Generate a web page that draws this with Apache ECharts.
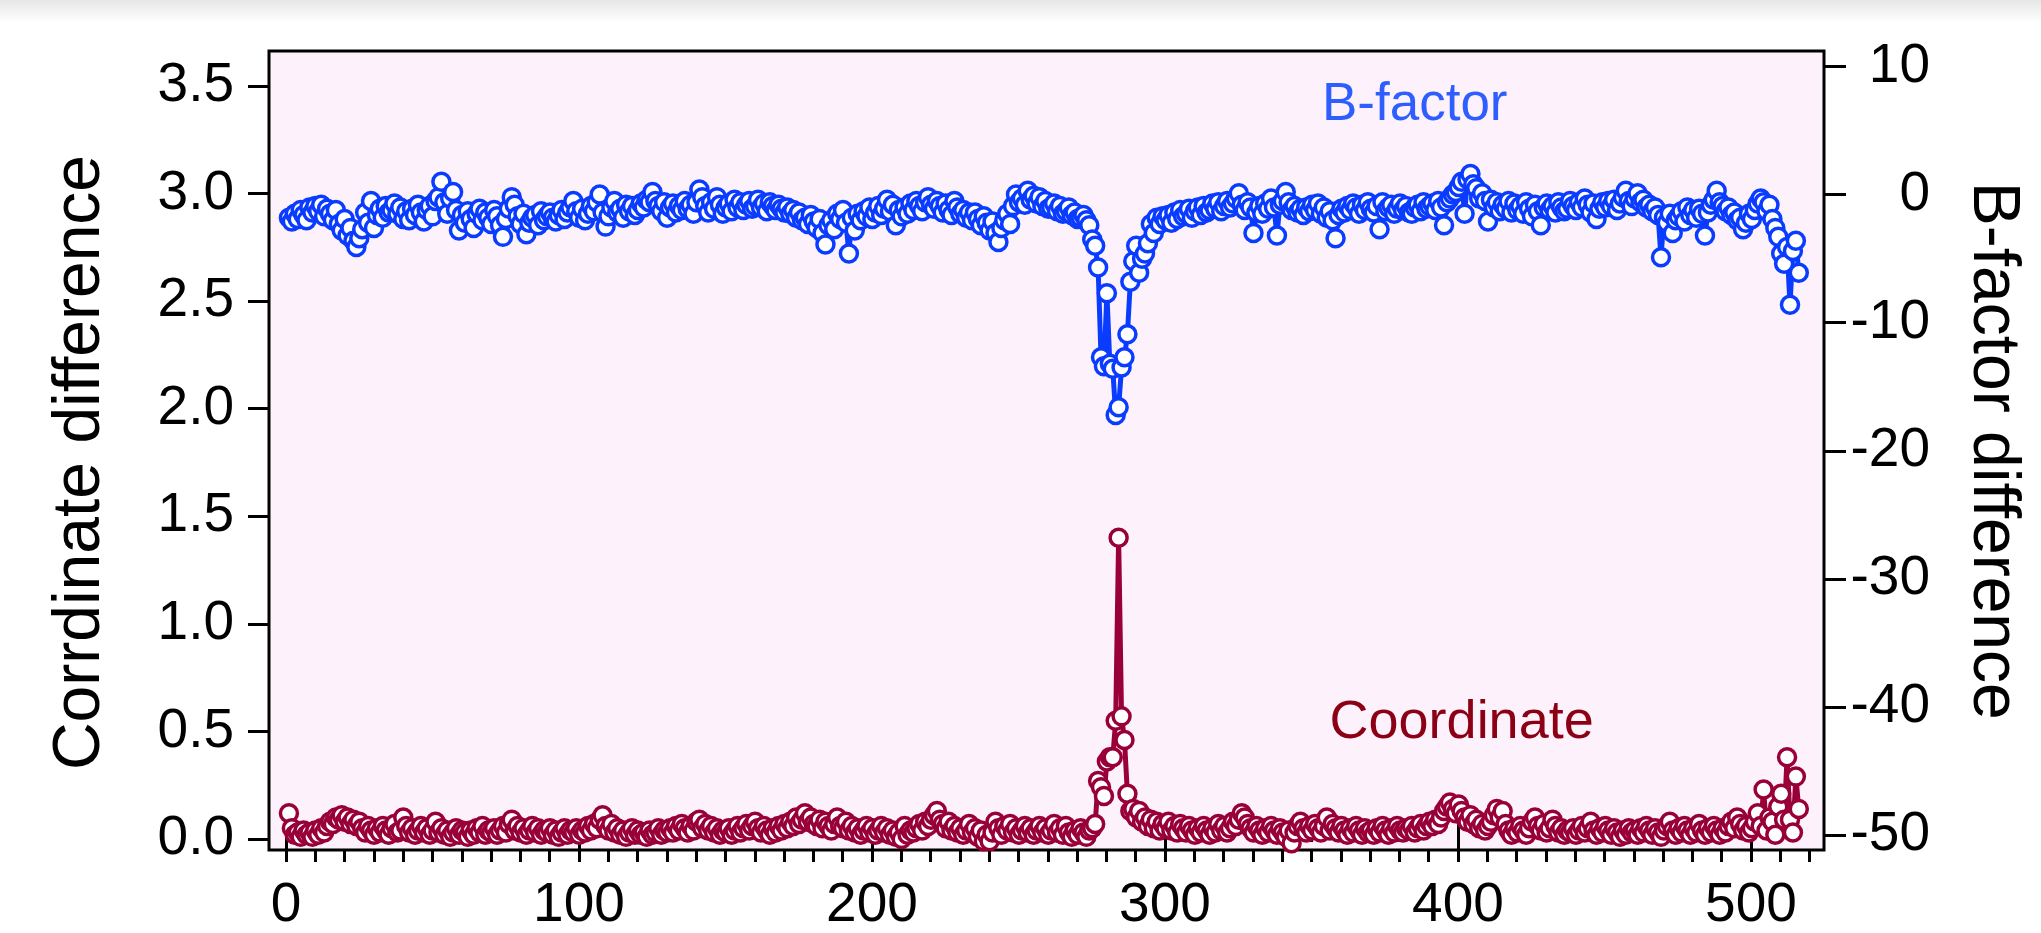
<!DOCTYPE html>
<html>
<head>
<meta charset="utf-8">
<title>Coordinate and B-factor difference per residue</title>
<script src="https://cdn.jsdelivr.net/npm/echarts@6/dist/echarts.min.js"></script>
<style>
  html, body { margin: 0; padding: 0; background: #ffffff; }
  #chart { width: 2041px; height: 933px; }
</style>
</head>
<body>
<div id="chart"></div>
<script>
// Residue numbering of the first value in each series
const residueStart = 1;

// B-factor difference per residue (right axis)
const bFactorDiff = [
  -1.8, -2.1, -1.5, -1.9, -1.2, -1.6, -2.0, -1.0, -1.4, -0.9,
  -1.3, -0.8, -1.7, -1.1, -1.5, -2.0, -1.2, -2.3, -2.8, -1.9,
  -3.2, -2.6, -3.6, -4.1, -3.4, -2.7, -1.4, -2.2, -0.5, -2.6,
  -1.6, -1.1, -1.8, -0.9, -1.4, -1.2, -0.7, -1.5, -1.0, -1.9,
  -1.3, -2.0, -1.1, -1.6, -0.8, -1.4, -2.1, -1.2, -0.9, -1.7,
  -0.5, -0.2, 1.0, -0.6, -1.5, -0.3, 0.2, -1.2, -2.8, -1.6,
  -2.2, -1.3, -1.9, -2.6, -1.5, -1.1, -2.0, -1.4, -1.8, -2.3,
  -1.2, -1.7, -2.4, -3.3, -1.9, -1.1, -0.2, -0.8, -1.7, -2.3,
  -1.5, -3.1, -2.2, -1.8, -1.6, -2.4, -1.3, -2.0, -1.7, -1.4,
  -1.8, -2.1, -1.6, -1.2, -1.9, -1.4, -1.0, -0.5, -1.3, -1.8,
  -1.1, -2.0, -1.5, -0.9, -1.3, -0.6, 0.0, -1.4, -2.5, -1.7,
  -1.0, -0.5, -1.4, -1.1, -1.8, -0.8, -1.3, -0.9, -1.6, -1.2,
  -0.7, -1.0, -0.4, -0.6, 0.2, -0.5, -0.9, -1.3, -0.6, -1.8,
  -1.0, -0.7, -1.4, -0.9, -1.2, -0.5, -1.1, -0.8, -1.5, -0.6,
  0.4, -0.2, -0.9, -1.4, -0.6, -1.1, -0.2, -0.8, -1.5, -1.0,
  -0.7, -1.3, -0.4, -1.0, -0.6, -1.2, -0.8, -0.5, -1.1, -0.9,
  -0.4, -1.0, -0.7, -1.3, -0.6, -0.9, -1.2, -0.8, -1.1, -1.4,
  -1.0, -1.5, -1.2, -1.8, -1.4, -2.0, -1.8, -2.3, -1.6, -2.1,
  -2.6, -1.9, -3.0, -3.9, -2.4, -2.0, -2.7, -1.5, -1.9, -1.2,
  -2.2, -4.6, -1.8, -2.8, -1.5, -2.0, -1.3, -1.7, -1.0, -1.9,
  -1.4, -0.9, -1.6, -1.1, -0.4, -1.3, -0.8, -2.4, -1.2, -1.7,
  -1.0, -1.5, -0.7, -1.2, -0.5, -0.9, -1.3, -0.6, -0.2, -0.8,
  -1.1, -0.5, -0.9, -1.4, -0.7, -1.2, -1.6, -0.5, -1.0, -1.5,
  -1.2, -1.8, -1.4, -2.0, -1.4, -1.9, -2.4, -1.7, -2.2, -2.8,
  -2.1, -3.0, -3.7, -2.6, -2.0, -1.5, -2.3, -0.9, 0.0, -0.6,
  -0.3, -0.8, 0.3, -0.4, -0.1, -0.7, -0.2, -0.9, -0.5, -1.1,
  -1.0, -0.7, -1.3, -0.9, -1.5, -1.3, -1.0, -1.6, -1.4, -1.9,
  -1.8, -1.6, -2.0, -2.4, -3.5, -4.0, -5.7, -12.7, -13.4, -7.7,
  -13.2, -13.6, -17.2, -16.6, -13.5, -12.7, -10.9, -6.8, -5.2, -4.0,
  -6.1, -5.0, -4.6, -3.8, -2.3, -3.0, -1.8, -2.3, -1.7, -2.0,
  -1.6, -2.2, -1.4, -1.9, -1.2, -1.7, -1.5, -1.1, -1.8, -1.3,
  -1.0, -1.6, -0.9, -1.4, -1.2, -0.7, -1.1, -0.6, -1.3, -0.9,
  -0.5, -1.0, -0.7, -0.3, 0.1, -0.8, -1.2, -0.6, -1.0, -3.0,
  -1.4, -0.9, -1.5, -0.7, -1.1, -0.3, -1.0, -3.2, -0.8, -0.5,
  0.2, -0.6, -1.2, -0.9, -1.4, -1.1, -1.6, -1.0, -1.3, -0.8,
  -1.2, -0.7, -1.5, -1.0, -1.8, -1.3, -2.0, -3.4, -1.6, -1.1,
  -1.4, -0.9, -1.2, -0.7, -1.0, -1.5, -0.8, -1.2, -0.6, -1.1,
  -1.4, -0.9, -2.7, -0.6, -1.3, -1.0, -0.8, -1.5, -1.1, -0.7,
  -1.2, -0.9, -1.4, -1.5, -1.0, -0.8, -1.3, -0.6, -1.1, -0.9,
  -0.7, -1.2, -0.5, -1.0, -2.4, -0.6, -0.3, 0.0, 0.2, 0.6,
  1.0, -1.5, 1.2, 1.6, 0.8, 0.5, -0.3, 0.1, -0.5, -2.1,
  -0.4, -1.0, -0.6, -1.3, -0.8, -1.1, -0.5, -1.4, -0.7, -1.2,
  -0.9, -1.5, -0.6, -1.1, -1.7, -0.8, -1.3, -2.4, -1.0, -0.7,
  -1.2, -0.9, -1.4, -0.6, -1.0, -1.3, -1.1, -0.5, -0.9, -1.2,
  -0.6, -1.0, -0.3, -0.8, -1.4, -0.7, -1.9, -1.1, -0.6, -1.0,
  -0.5, -0.9, -0.4, -1.2, -0.7, -0.2, 0.3, -0.5, -0.9, -0.3,
  0.1, -0.6, -0.4, -1.0, -0.8, -1.3, -1.0, -1.6, -4.9, -1.8,
  -2.2, -1.5, -3.0, -2.0, -1.7, -1.3, -2.1, -1.0, -1.6, -1.2,
  -1.8, -1.1, -1.5, -3.2, -1.4, -0.8, -0.4, 0.3, -0.6, -0.9,
  -1.3, -1.0, -1.6, -1.4, -2.0, -1.8, -2.7, -2.2, -1.5, -1.9,
  -1.2, -0.7, -0.3, -0.6, -1.3, -0.8, -1.9, -2.6, -3.3, -4.6,
  -5.4, -4.1, -8.6, -4.4, -3.6, -6.1
];

// Coordinate difference per residue (left axis)
const coordDiff = [
  0.12, 0.05, 0.02, 0.03, 0.01, 0.04, 0.02, 0.03, 0.01, 0.04,
  0.02, 0.05, 0.03, 0.06, 0.08, 0.07, 0.10, 0.09, 0.11, 0.08,
  0.10, 0.07, 0.09, 0.06, 0.08, 0.05, 0.03, 0.06, 0.04, 0.02,
  0.05, 0.03, 0.06, 0.04, 0.02, 0.05, 0.07, 0.03, 0.04, 0.10,
  0.06, 0.03, 0.05, 0.02, 0.04, 0.06, 0.03, 0.05, 0.02, 0.04,
  0.08, 0.03, 0.05, 0.02, 0.04, 0.01, 0.03, 0.05, 0.02, 0.04,
  0.03, 0.01, 0.04, 0.02, 0.05, 0.03, 0.06, 0.02, 0.04, 0.03,
  0.05, 0.02, 0.04, 0.06, 0.03, 0.07, 0.09, 0.04, 0.06, 0.03,
  0.05, 0.02, 0.04, 0.06, 0.03, 0.05, 0.02, 0.04, 0.03, 0.05,
  0.02, 0.04, 0.01, 0.03, 0.05, 0.02, 0.04, 0.03, 0.05, 0.02,
  0.04, 0.03, 0.06, 0.04, 0.07, 0.05, 0.09, 0.11, 0.06, 0.04,
  0.07, 0.03, 0.05, 0.02, 0.04, 0.01, 0.03, 0.05, 0.02, 0.04,
  0.02, 0.03, 0.01, 0.04, 0.02, 0.03, 0.05, 0.02, 0.04, 0.03,
  0.05, 0.03, 0.06, 0.04, 0.07, 0.05, 0.03, 0.06, 0.04, 0.08,
  0.09, 0.05, 0.07, 0.04, 0.06, 0.03, 0.05, 0.02, 0.04, 0.03,
  0.05, 0.02, 0.04, 0.06, 0.03, 0.05, 0.07, 0.04, 0.06, 0.08,
  0.05, 0.03, 0.06, 0.04, 0.02, 0.05, 0.03, 0.06, 0.04, 0.07,
  0.05, 0.08, 0.06, 0.10, 0.07, 0.09, 0.12, 0.08, 0.10, 0.07,
  0.06, 0.09, 0.05, 0.08, 0.06, 0.04, 0.07, 0.10, 0.06, 0.05,
  0.08, 0.04, 0.06, 0.03, 0.05, 0.02, 0.04, 0.06, 0.03, 0.05,
  0.02, 0.04, 0.06, 0.03, 0.05, 0.02, 0.04, 0.01, 0.03, 0.00,
  0.06, 0.02, 0.04, 0.03, 0.05, 0.07, 0.04, 0.08, 0.06, 0.09,
  0.11, 0.13, 0.09, 0.07, 0.05, 0.08, 0.04, 0.06, 0.03, 0.05,
  0.02, 0.04, 0.07, 0.03, 0.05, 0.01, 0.04, -0.01, 0.02, -0.01,
  0.03, 0.08, 0.05, 0.02, 0.06, 0.04, 0.07, 0.03, 0.05, 0.02,
  0.04, 0.06, 0.03, 0.05, 0.02, 0.04, 0.06, 0.03, 0.05, 0.02,
  0.04, 0.07, 0.03, 0.05, 0.02, 0.06, 0.03, 0.01, 0.04, 0.02,
  0.05, 0.03, 0.01, 0.04, 0.05, 0.07, 0.27, 0.24, 0.20, 0.36,
  0.38, 0.38, 0.55, 1.40, 0.57, 0.46, 0.21, 0.13, 0.14, 0.10,
  0.13, 0.08, 0.10, 0.06, 0.09, 0.05, 0.08, 0.04, 0.07, 0.05,
  0.08, 0.04, 0.06, 0.03, 0.07, 0.05, 0.03, 0.06, 0.04, 0.02,
  0.05, 0.03, 0.06, 0.04, 0.02, 0.05, 0.03, 0.07, 0.04, 0.06,
  0.03, 0.05, 0.08, 0.06, 0.09, 0.12, 0.10, 0.07, 0.05, 0.03,
  0.06, 0.04, 0.02, 0.05, 0.03, 0.06, 0.04, 0.02, 0.05, 0.03,
  0.01, 0.04, -0.02, 0.03, 0.06, 0.08, 0.05, 0.03, 0.06, 0.04,
  0.07, 0.05, 0.03, 0.06, 0.10, 0.04, 0.07, 0.05, 0.03, 0.06,
  0.04, 0.02, 0.05, 0.03, 0.06, 0.04, 0.02, 0.05, 0.03, 0.04,
  0.02, 0.05, 0.03, 0.06, 0.04, 0.02, 0.05, 0.03, 0.06, 0.04,
  0.03, 0.05, 0.04, 0.06, 0.03, 0.05, 0.07, 0.04, 0.06, 0.08,
  0.06, 0.09, 0.07, 0.10, 0.13, 0.15, 0.17, 0.14, 0.12, 0.16,
  0.13, 0.10, 0.08, 0.11, 0.07, 0.09, 0.05, 0.07, 0.04, 0.06,
  0.08, 0.11, 0.14, 0.10, 0.13, 0.07, 0.04, 0.02, 0.05, 0.03,
  0.06, 0.04, 0.02, 0.05, 0.08, 0.10, 0.06, 0.04, 0.07, 0.03,
  0.05, 0.09, 0.06, 0.03, 0.05, 0.02, 0.04, 0.03, 0.05, 0.02,
  0.04, 0.06, 0.03, 0.05, 0.08, 0.04, 0.02, 0.05, 0.03, 0.06,
  0.04, 0.02, 0.05, 0.03, 0.01, 0.04, 0.02, 0.05, 0.03, 0.04,
  0.02, 0.05, 0.03, 0.06, 0.04, 0.02, 0.05, 0.03, 0.01, 0.04,
  0.06, 0.08, 0.04, 0.02, 0.05, 0.03, 0.06, 0.04, 0.02, 0.05,
  0.03, 0.07, 0.04, 0.02, 0.05, 0.03, 0.06, 0.04, 0.02, 0.05,
  0.03, 0.06, 0.08, 0.05, 0.10, 0.07, 0.04, 0.06, 0.03, 0.05,
  0.08, 0.12, 0.06, 0.23, 0.04, 0.10, 0.08, 0.02, 0.15, 0.21,
  0.09, 0.38, 0.09, 0.03, 0.29, 0.14
];

// Axis ranges and tick steps
const residueRange = [-5.8, 524.6];
const coordRange = [-0.0511, 3.6627];
const bFactorRange = [-51.17, 11.21];
const coordTicks = { min: 0, max: 3.5, step: 0.5 };
const bFactorTicks = { min: -50, max: 10, step: 10 };
const residueTicks = { min: 0, max: 500, major: 100, mid: 50, minorMax: 520, minor: 10 };

// In-plot series captions: [text, residue, value]
const bFactorCaption = ['B-factor', 385, 6.95];
const coordCaption = ['Coordinate', 401, 0.54];

const FONT = '"Liberation Sans", Arial, Helvetica, sans-serif';
const BLUE = '#0a3cff';
const RED = '#990038';

const toPairs = arr => arr.map((v, i) => [residueStart + i, v]);

const noSplit = { show: false };
const tickStyle = { color: '#000', width: 3 };

const chart = echarts.init(document.getElementById('chart'), null, { renderer: 'canvas' });

const option = {
  animation: false,
  backgroundColor: '#ffffff',
  textStyle: { fontFamily: FONT },
  graphic: [{
    type: 'rect',
    left: 0, top: 0,
    shape: { width: 2041, height: 22 },
    style: {
      fill: new echarts.graphic.LinearGradient(0, 0, 0, 1, [
        { offset: 0, color: '#e6e6e6' },
        { offset: 1, color: '#ffffff' }
      ])
    },
    silent: true
  }],
  grid: [
    // plot frame carrying the data
    { left: 269, top: 51, width: 1555, height: 799, show: true,
      backgroundColor: '#fdf1fb', borderColor: '#000', borderWidth: 3 },
    // left value axis (coordinate difference)
    { left: 269, top: 86, width: 200, height: 753 },
    // right value axis (B-factor difference), axis sits on this grid's left edge
    { left: 1824, top: 66.5, width: 100, height: 768.5 },
    // residue axis, major and mid ticks
    { left: 286, top: 51, width: 1465, height: 799 },
    // residue axis, minor ticks
    { left: 286, top: 51, width: 1523.6, height: 799 },
    // carrier for the right axis title
    { left: 1624, top: 66.5, width: 200, height: 768.5 }
  ],
  xAxis: [
    { gridIndex: 0, type: 'value', min: residueRange[0], max: residueRange[1], show: false, splitLine: noSplit },
    { gridIndex: 1, type: 'value', min: 0, max: 1, show: false, splitLine: noSplit },
    { gridIndex: 2, type: 'value', min: 0, max: 1, show: false, splitLine: noSplit },
    { gridIndex: 3, type: 'value', position: 'bottom',
      min: residueTicks.min, max: residueTicks.max, interval: residueTicks.major,
      axisLine: { show: false, onZero: false },
      axisTick: { show: true, length: 26, lineStyle: tickStyle },
      axisLabel: { show: true, fontSize: 55, color: '#000', fontFamily: FONT, margin: 55 },
      splitLine: noSplit },
    { gridIndex: 3, type: 'value', position: 'bottom',
      min: residueTicks.min, max: residueTicks.max, interval: residueTicks.mid,
      axisLine: { show: false, onZero: false },
      axisTick: { show: true, length: 19, lineStyle: tickStyle },
      axisLabel: { show: false },
      splitLine: noSplit },
    { gridIndex: 4, type: 'value', position: 'bottom',
      min: residueTicks.min, max: residueTicks.minorMax, interval: residueTicks.minor,
      axisLine: { show: false, onZero: false },
      axisTick: { show: true, length: 12, lineStyle: tickStyle },
      axisLabel: { show: false },
      splitLine: noSplit },
    { gridIndex: 5, type: 'value', min: 0, max: 1, show: false, splitLine: noSplit }
  ],
  yAxis: [
    { gridIndex: 0, type: 'value', min: coordRange[0], max: coordRange[1], show: false, splitLine: noSplit },
    { gridIndex: 0, type: 'value', min: bFactorRange[0], max: bFactorRange[1], show: false, splitLine: noSplit, position: 'right' },
    { gridIndex: 1, type: 'value', position: 'left',
      min: coordTicks.min, max: coordTicks.max, interval: coordTicks.step,
      axisLine: { show: false, onZero: false },
      axisTick: { show: true, length: 21, lineStyle: tickStyle },
      axisLabel: { show: true, fontSize: 55, color: '#000', fontFamily: FONT, margin: 35,
                   formatter: v => v.toFixed(1) },
      splitLine: noSplit,
      name: 'Corrdinate difference', nameLocation: 'middle', nameGap: 155,
      nameTextStyle: { fontSize: 66, color: '#000', fontFamily: FONT } },
    { gridIndex: 2, type: 'value', position: 'left',
      min: bFactorTicks.min, max: bFactorTicks.max, interval: bFactorTicks.step,
      axisLine: { show: false, onZero: false },
      axisTick: { show: true, inside: true, length: 22, lineStyle: tickStyle },
      axisLabel: { show: true, inside: true, fontSize: 55, color: '#000', fontFamily: FONT,
                   margin: 106, align: 'right' },
      splitLine: noSplit },
    { gridIndex: 3, type: 'value', min: 0, max: 1, show: false, splitLine: noSplit },
    { gridIndex: 4, type: 'value', min: 0, max: 1, show: false, splitLine: noSplit },
    { gridIndex: 5, type: 'value', position: 'right', min: bFactorTicks.min, max: bFactorTicks.max,
      axisLine: { show: false, onZero: false },
      axisTick: { show: false },
      axisLabel: { show: false },
      splitLine: noSplit,
      name: 'B-factor difference', nameLocation: 'middle', nameGap: 135, nameRotate: -90,
      nameMoveOverlap: false,
      nameTextStyle: { fontSize: 66, color: '#000', fontFamily: FONT } }
  ],
  series: [
    {
      name: 'Coordinate',
      type: 'line',
      xAxisIndex: 0, yAxisIndex: 0,
      data: toPairs(coordDiff),
      symbol: 'circle', symbolSize: 17, showSymbol: true, showAllSymbol: true,
      lineStyle: { color: RED, width: 5 },
      itemStyle: { color: '#ffffff', borderColor: RED, borderWidth: 3.5 },
      emphasis: { disabled: true },
      markPoint: {
        symbol: 'circle', symbolSize: 1,
        itemStyle: { color: 'rgba(0,0,0,0)', borderWidth: 0 },
        label: { show: true, position: 'inside', formatter: coordCaption[0],
                 fontSize: 54, color: '#8b0014', fontFamily: FONT },
        data: [{ coord: [coordCaption[1], coordCaption[2]] }]
      },
      z: 3
    },
    {
      name: 'B-factor',
      type: 'line',
      xAxisIndex: 0, yAxisIndex: 1,
      data: toPairs(bFactorDiff),
      symbol: 'circle', symbolSize: 17, showSymbol: true, showAllSymbol: true,
      lineStyle: { color: BLUE, width: 5 },
      itemStyle: { color: '#ffffff', borderColor: BLUE, borderWidth: 3.5 },
      emphasis: { disabled: true },
      markPoint: {
        symbol: 'circle', symbolSize: 1,
        itemStyle: { color: 'rgba(0,0,0,0)', borderWidth: 0 },
        label: { show: true, position: 'inside', formatter: bFactorCaption[0],
                 fontSize: 53, color: '#2f5eff', fontFamily: FONT },
        data: [{ coord: [bFactorCaption[1], bFactorCaption[2]] }]
      },
      z: 3
    }
  ]
};

chart.setOption(option);
</script>
</body>
</html>
